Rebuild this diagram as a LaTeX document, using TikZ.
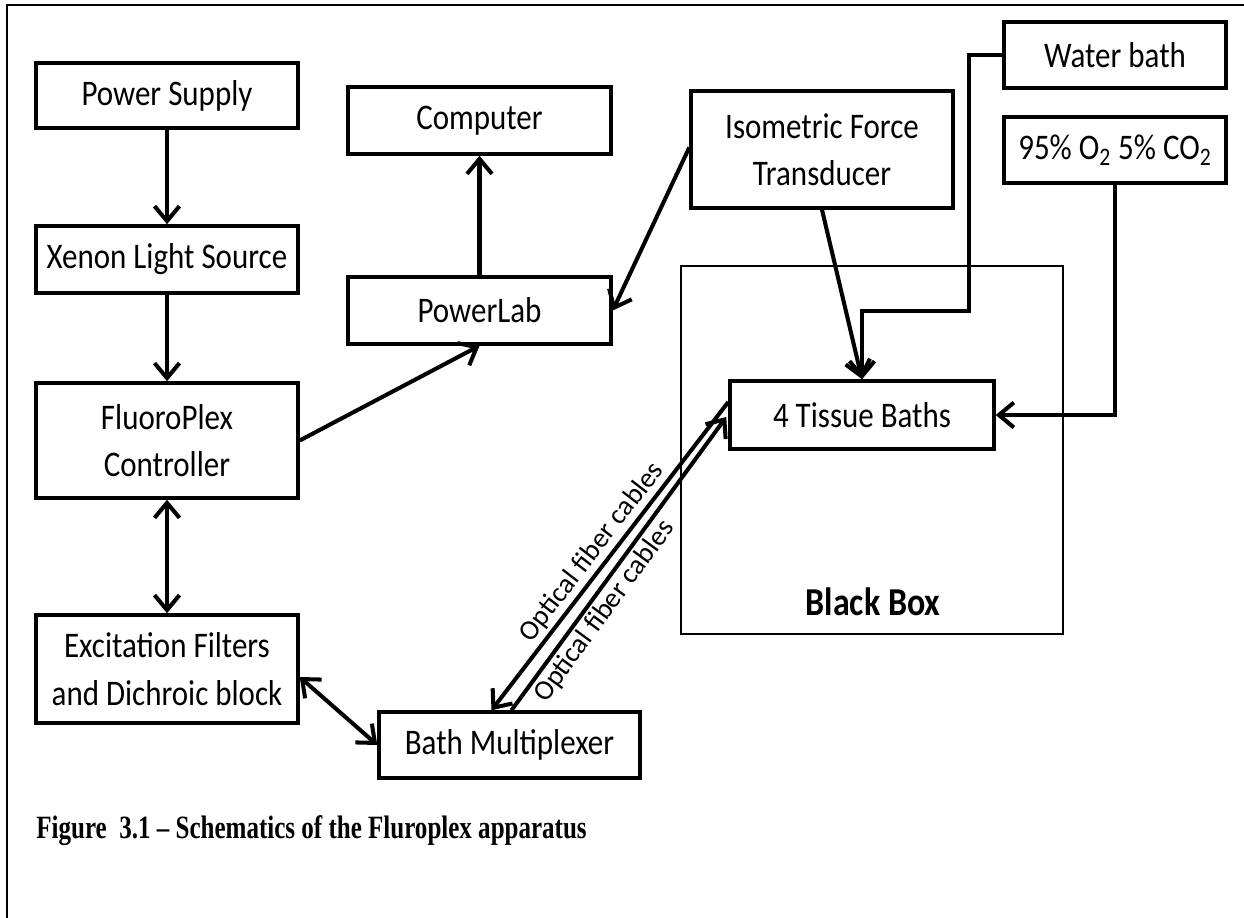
\documentclass[tikz,border=0pt]{standalone}
\usepackage{fontspec}
\setmainfont{Carlito}
\newfontfamily\capfont[FakeStretch=0.77]{Liberation Serif}
\newfontfamily\boxfont[FakeStretch=0.86]{Carlito}
\usepackage{tikz}
\usetikzlibrary{arrows.meta, calc}
\tikzstyle{block} = [
    rectangle, draw=black, line width=2pt,
    minimum width=5.24cm, minimum height=1.32cm, inner sep=0pt,
    text centered, align=center,
    font=\boxfont\fontsize{20.5}{27}\selectfont]
\tikzstyle{arrow} = [line width=2.3pt, ->, >={Straight Barb[length=3mm, width=5mm]}]
\tikzstyle{fibre} = [sloped, inner sep=1.5pt, font=\fontsize{16}{18}\selectfont]

\begin{document}
\begin{tikzpicture}[x=0.02cm, y=-0.02cm]

  \useasboundingbox (0,0) rectangle (1244,918);
  \draw [line width=1.1pt] (7,918) -- (7,5) -- (1244,5);

  \node (blackbox) [rectangle, draw=black, line width=1.5pt,
      minimum width=7.64cm, minimum height=7.36cm] at (872,450) {};
  \node (bbtext) [font=\boxfont\bfseries\fontsize{22.5}{26}\selectfont] at (873,602) {Black Box};

  \node (power) [block, minimum height=1.30cm] at (167,95.5) {Power Supply};
  \node (xenon) [block, minimum height=1.34cm] at (167,259.5) {Xenon Light Source};
  \node (fluoro) [block, minimum height=2.30cm] at (167,440.5) {FluoroPlex\\Controller};
  \node (excite) [block, minimum height=2.16cm] at (167,669) {Excitation Filters\\and Dichroic block};
  \node (mux) [block, minimum width=5.22cm] at (509.5,745) {Bath Multiplexer};
  \node (computer) [block, minimum width=5.26cm, minimum height=1.34cm] at (479.5,120.5) {Computer};
  \node (powerlab) [block, minimum width=5.26cm, minimum height=1.34cm] at (479.5,310.5) {PowerLab};
  \node (transducer) [block, minimum height=2.34cm] at (822,149.5) {Isometric Force\\Transducer};
  \node (water) [block, minimum width=4.44cm] at (1115,55) {Water bath};
  \node (gas) [block, minimum width=4.44cm] at (1115,150) {95\% O\textsubscript{2} 5\% CO\textsubscript{2}};
  \node (tissue) [block, minimum width=5.28cm, minimum height=1.36cm] at (862,415) {4 Tissue Baths};

  \node (caption) [anchor=base west, inner sep=0pt,
      font=\capfont\bfseries\fontsize{18.5}{20}\selectfont] at (36,838)
      {Figure~~3.1 – Schematics of the Fluroplex apparatus};

  \draw [arrow] (power) -- (xenon);
  \draw [arrow] (xenon) -- (fluoro);
  \draw [arrow, <->] (fluoro) -- (excite);
  \draw [arrow, <->] ($(excite.east)+(0,8)$) -- (mux.west);
  \draw [arrow] (fluoro.east) -- (powerlab.south);
  \draw [arrow] (powerlab) -- (computer);
  \draw [arrow] ($(transducer.west)+(0,-2)$) -- (powerlab.east);
  \draw [arrow] (transducer.south) -- (tissue.north);
  \draw [arrow] (water.west) -- ++(-33,0) |- ($(tissue.north)+(0,-68)$) -- (tissue.north);
  \draw [arrow] (gas.south) |- (tissue.east);
  \draw [arrow, <-] ($(mux.north)+(-18,0)$) -- node[fibre, pos=0.48, above] {Optical fiber cables}
      ($(tissue.west)+(0,-13)$);
  \draw [arrow] ($(mux.north)+(2,0)$) -- node[fibre, pos=0.37, below] {Optical fiber cables}
      ($(tissue.west)+(-2,2)$);

\end{tikzpicture}
\end{document}
